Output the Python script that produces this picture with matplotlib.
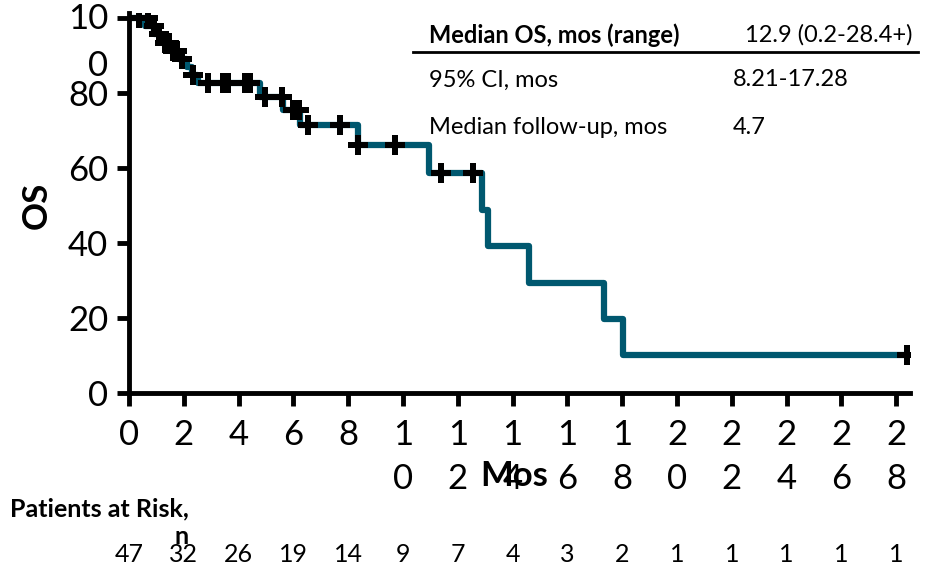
import matplotlib
matplotlib.use('Agg')
import matplotlib.pyplot as plt
from matplotlib import transforms

plt.rcParams['font.family'] = ['Lato', 'DejaVu Sans']

#%% Data

# Kaplan-Meier steps: time (mos) and OS (%) after each drop
step_times = [0, 0.6, 0.9, 1.2, 1.5, 1.8, 2.1, 2.3, 2.5, 4.78, 5.63, 6.25, 8.35,
              10.94, 12.87, 13.09, 14.58, 17.35, 18.04, 28.4]
step_os = [100, 97.8, 95.6, 93.4, 91.2, 89.0, 86.8, 84.7, 82.7, 78.9, 75.5, 71.5, 66.1,
           58.7, 48.8, 39.2, 29.4, 19.8, 10.1, 10.1]

# censored patients
cens_times = [0.35, 0.7, 0.9, 1.1, 1.3, 1.45, 1.6, 1.75, 1.95, 2.35, 2.9, 3.44, 3.62,
              4.24, 4.42, 4.97, 5.6, 6.0, 6.2, 6.54, 7.7, 8.35, 9.7, 11.4, 12.55, 28.4]
cens_os = [100, 100, 97.8, 95.6, 93.4, 93.4, 91.2, 91.2, 89.0, 84.7, 82.7, 82.7, 82.7,
           82.7, 82.7, 78.9, 78.9, 75.5, 75.5, 71.5, 71.5, 66.1, 66.1, 58.7, 58.7, 10.1]

x_ticks = list(range(0, 29, 2))
x_tick_labels = ['\n'.join(str(t)) if t >= 10 else str(t) for t in x_ticks]
y_ticks = [0, 20, 40, 60, 80, 100]
y_tick_labels = ['0', '20', '40', '60', '80', '10\n0']
at_risk = [47, 32, 26, 19, 14, 9, 7, 4, 3, 2, 1, 1, 1, 1, 1]

table_rows = [('Median OS, mos (range)', '12.9 (0.2-28.4+)'),
              ('95% CI, mos', '8.21-17.28'),
              ('Median follow-up, mos', '4.7')]

line_color = '#00586F'

#%% Figure

W, H = 935, 571
fig = plt.figure(figsize=(W / 100, H / 100), dpi=100)
ax = fig.add_axes([129 / W, 1 - 393 / H, (910 - 129) / W, (393 - 13) / H])

ax.step(step_times, step_os, where='post', color=line_color, linewidth=4.5, zorder=2)
ax.plot(cens_times, cens_os, linestyle='none', marker='P', markersize=14,
        color='black', markeredgewidth=0, zorder=3)

ax.set_xlim(0, 28.5)
ax.set_ylim(0, 101.3)
for side in ['top', 'right']:
    ax.spines[side].set_visible(False)
for side in ['left', 'bottom']:
    ax.spines[side].set_linewidth(3.5)

ax.set_xticks(x_ticks)
ax.set_xticklabels(x_tick_labels, fontsize=25, linespacing=1.45)
ax.set_yticks(y_ticks)
ax.set_yticklabels(y_tick_labels, fontsize=25)
ax.tick_params(axis='both', length=9, width=3.5, direction='out')
ax.tick_params(axis='x', pad=10)
ax.tick_params(axis='y', pad=6)

# the wrapped "10 / 0" label: first line sits on the tick
top_label = ax.get_yticklabels()[-1]
top_label.set_va('top')
top_label.set_linespacing(1.6)
top_label.set_transform(top_label.get_transform()
                        + transforms.ScaledTranslation(0, 11 / 72, fig.dpi_scale_trans))

ax.set_xlabel('Mos', fontsize=25, fontweight='bold')
ax.xaxis.set_label_coords(0.493, -0.175)
ax.set_ylabel('OS', fontsize=25, fontweight='bold')
ax.yaxis.set_label_coords(-0.097, 0.495)

# patients at risk row
trans = transforms.blended_transform_factory(ax.transData, ax.transAxes)
for t, n in zip(x_ticks, at_risk):
    ax.text(t, -0.425, str(n), transform=trans, ha='center', va='center', fontsize=18)
fig.text(10 / W, 1 - 497 / H, 'Patients at Risk,\nn', ha='left', va='top',
         fontsize=18, fontweight='bold', multialignment='right', linespacing=1.25)

# summary table
row_y = [35, 80, 127]
for (lab, val), y in zip(table_rows, row_y):
    bold = 'bold' if y == row_y[0] else 'normal'
    fig.text(429 / W, 1 - y / H, lab, ha='left', va='center', fontsize=17, fontweight=bold)
    x_val = 745 if y == row_y[0] else 733
    fig.text(x_val / W, 1 - y / H, val, ha='left', va='center', fontsize=17)
fig.add_artist(plt.Line2D([413 / W, 918 / W], [1 - 52 / H, 1 - 52 / H],
                          color='black', linewidth=2))

fig.savefig('out.png', dpi=100)
